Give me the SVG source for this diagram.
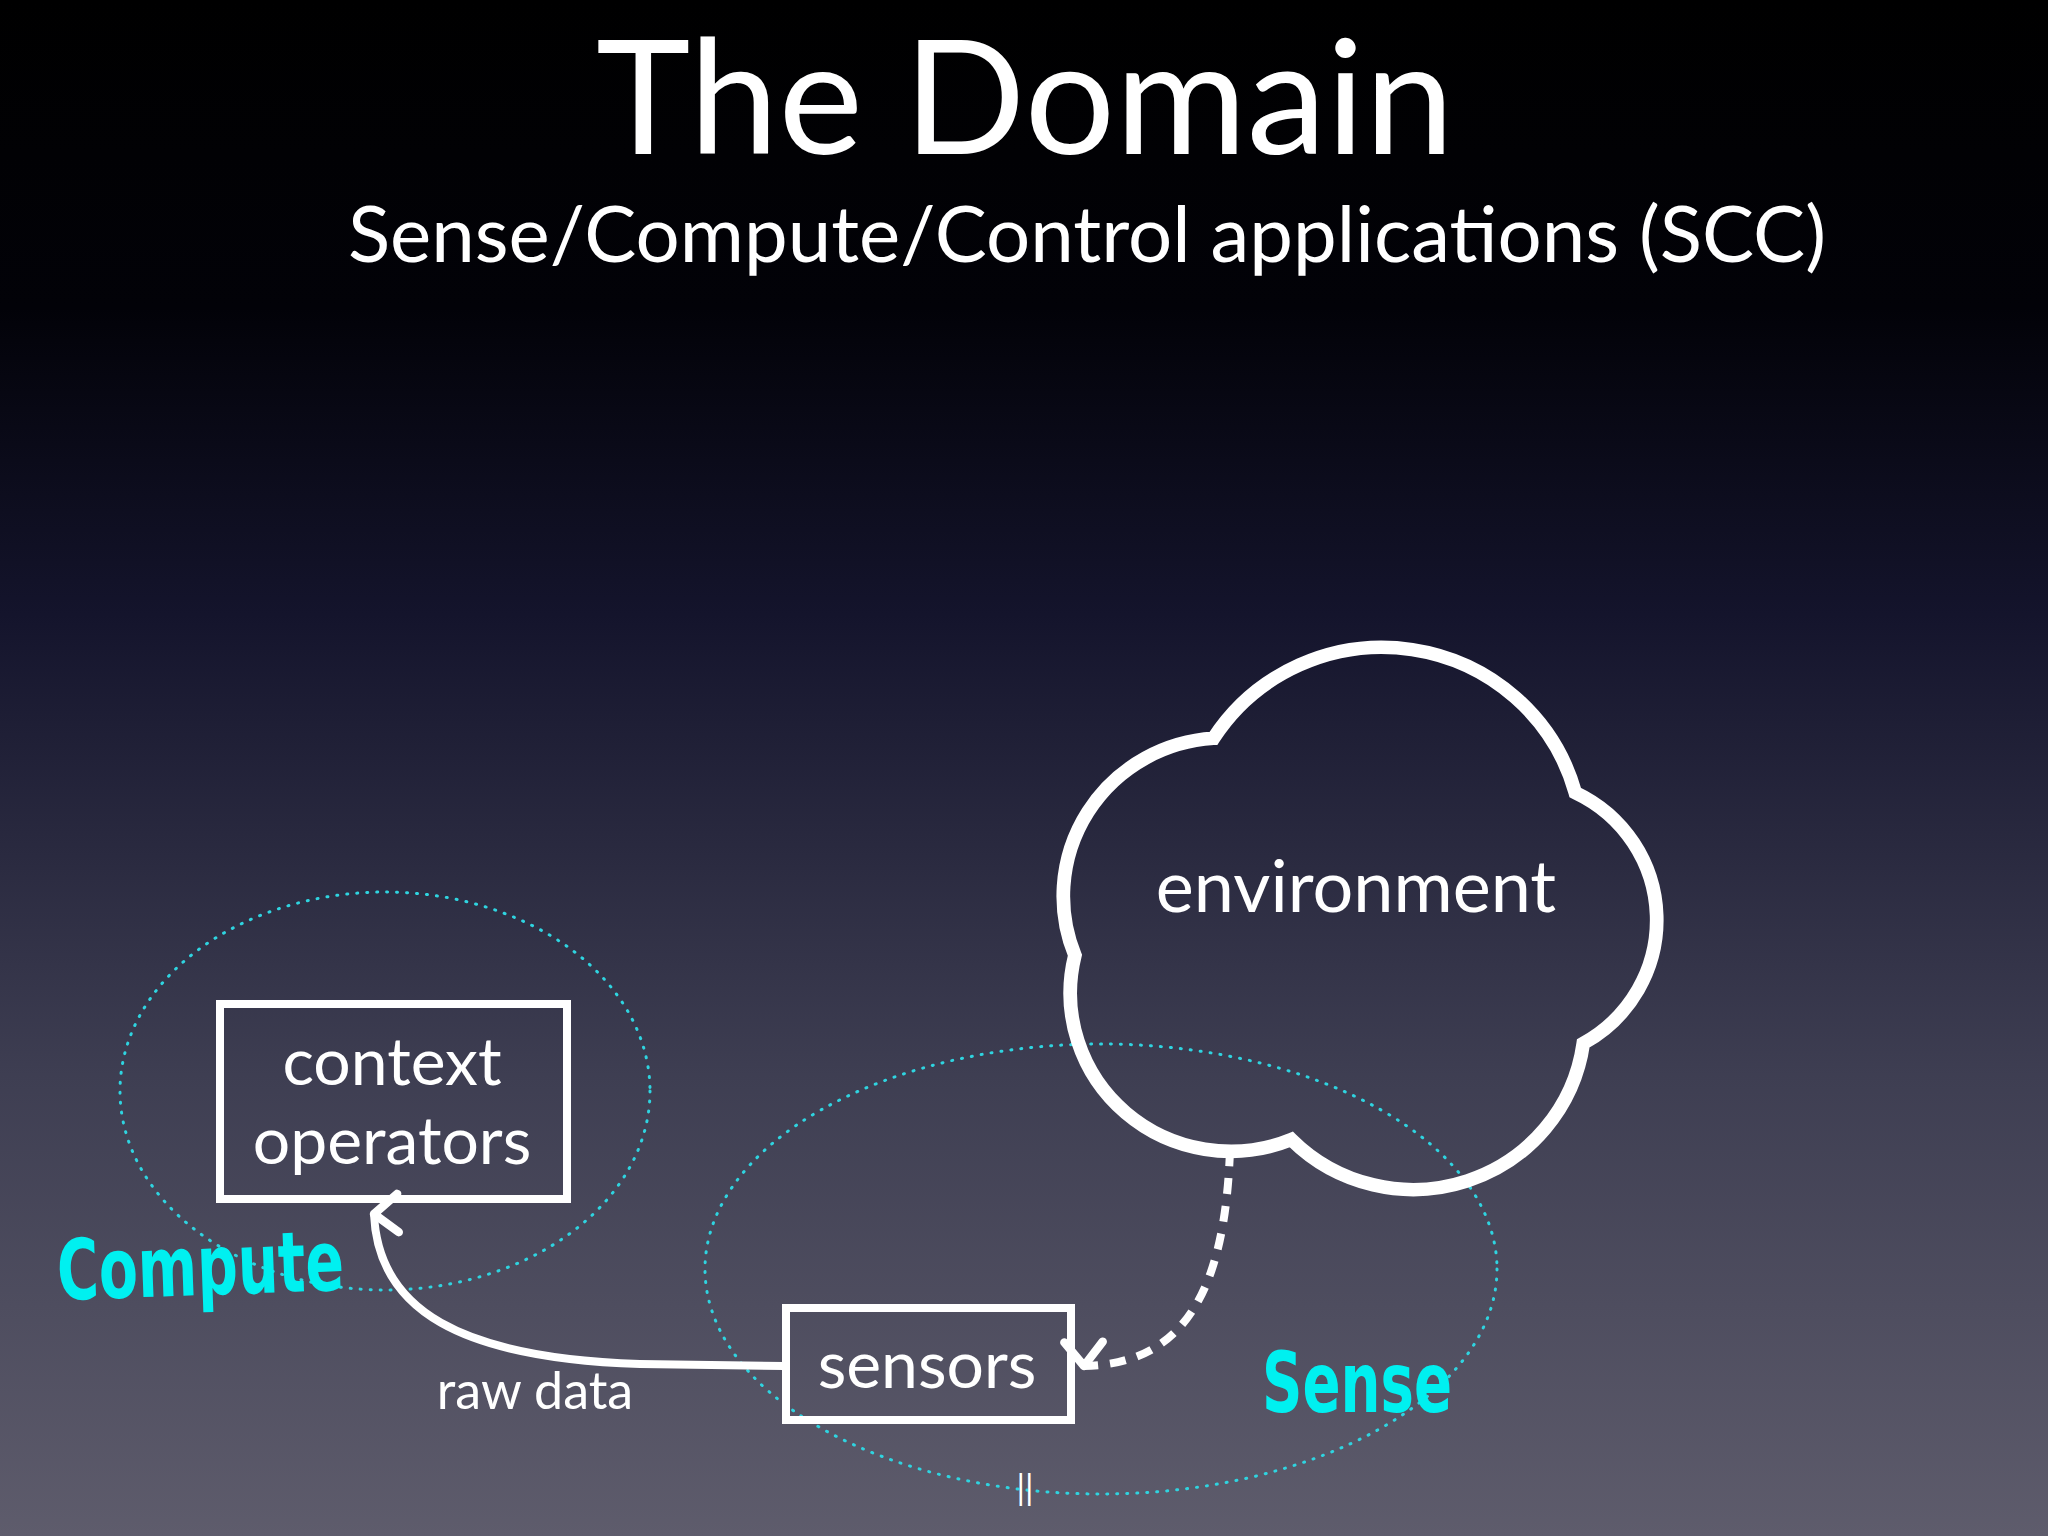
<svg xmlns="http://www.w3.org/2000/svg" width="2048" height="1536" viewBox="0 0 2048 1536">
<defs>
<linearGradient id="bg" x1="0" y1="0" x2="0" y2="1">
<stop offset="0" stop-color="#000000"/>
<stop offset="0.2" stop-color="#020208"/>
<stop offset="0.4" stop-color="#14142c"/>
<stop offset="0.7" stop-color="#3e3e52"/>
<stop offset="1" stop-color="#5e5c6c"/>
</linearGradient>
<marker id="ah" viewBox="0 0 20 20" refX="10" refY="4" markerWidth="6" markerHeight="6" orient="auto" markerUnits="strokeWidth">
<path d="M2,14 L10,4 L18,14" fill="none" stroke="#fff" stroke-width="3.5" stroke-linecap="round" stroke-linejoin="round"/>
</marker>
<style>
.w{fill:#fff;font-family:"Gill Sans","Lato","Liberation Sans",sans-serif}
.box{fill:none;stroke:#fff;stroke-width:8}
.dot{fill:none;stroke:#2fd4e0;stroke-width:3;stroke-dasharray:1 9;stroke-linecap:round}
.cy{fill:#00f0f0;font-family:"DejaVu Sans Condensed","DejaVu Sans",sans-serif;font-weight:bold}
</style>
</defs>
<rect width="2048" height="1536" fill="url(#bg)"/>
<text class="w" x="1025" y="154" font-size="160" text-anchor="middle">The Domain</text>
<text class="w" x="1087" y="262" font-size="78" text-anchor="middle">Sense/Compute/Control applications (SCC)</text>
<ellipse class="dot" cx="385" cy="1091" rx="265" ry="199"/>
<ellipse class="dot" cx="1101" cy="1269" rx="396" ry="225"/>
<g id="environment">
<path transform="translate(1360,918) scale(1.145,1.13) translate(-1353,-914)" d="M1225,755 A175,175 0 0 1 1541,803 A125,125 0 0 1 1548,1025 A150,150 0 0 1 1293,1110 A140,140 0 0 1 1104,947 A140,140 0 0 1 1225,755 Z" fill="none" stroke="#fff" stroke-width="12" stroke-linejoin="miter"/>
<text class="w" x="1356" y="912" font-size="72" text-anchor="middle">environment</text>
</g>
<g id="context_operators">
<rect class="box" x="220" y="1004" width="347" height="195"/>
<text class="w" x="392" y="1085" font-size="66" text-anchor="middle">context</text>
<text class="w" x="392" y="1164" font-size="66" text-anchor="middle">operators</text>
</g>
<g id="sensors">
<rect class="box" x="786" y="1308" width="285" height="112"/>
<text class="w" x="927" y="1388" font-size="66" text-anchor="middle">sensors</text>
</g>
<g id="connectors">
<path d="M784,1366 L640,1364 C460,1358 378,1310 374,1214" fill="none" stroke="#fff" stroke-width="8" marker-end="url(#ah)"/>
<path d="M1230,1150 C1225,1290 1185,1364 1084,1366" fill="none" stroke="#fff" stroke-width="8" stroke-dasharray="16 12" marker-end="url(#ah)"/>
</g>
<text class="w" x="535" y="1409" font-size="52" text-anchor="middle">raw data</text>
<text class="cy" x="58" y="1300" font-size="84" textLength="287" lengthAdjust="spacingAndGlyphs" transform="rotate(-2 58 1300)">Compute</text>
<text class="cy" x="1262" y="1412" font-size="84" textLength="190" lengthAdjust="spacingAndGlyphs">Sense</text>
<text class="w" x="1025" y="1500" font-size="34" text-anchor="middle">||</text>
</svg>
